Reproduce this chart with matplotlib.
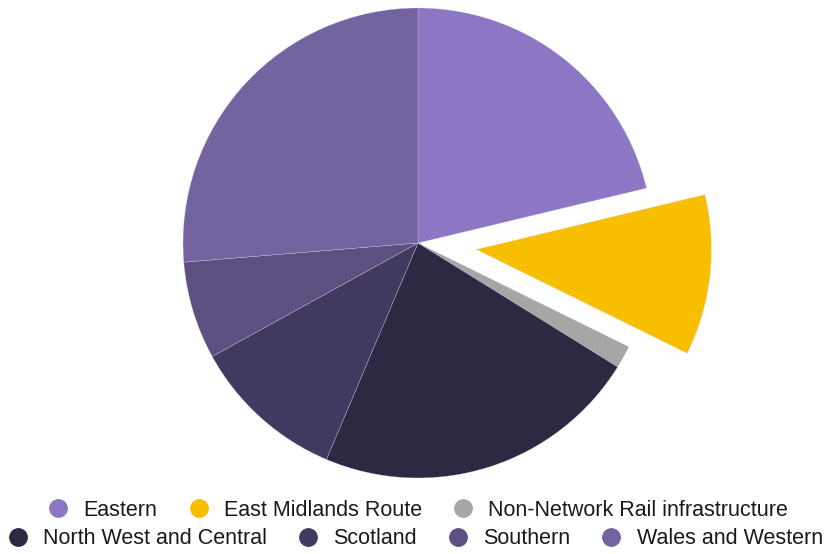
import matplotlib.pyplot as plt
from matplotlib.lines import Line2D

plt.rcParams['font.family'] = ['Liberation Sans', 'DejaVu Sans']

### data (share of total, %)
regions = ["Eastern", "East Midlands Route", "Non-Network Rail infrastructure",
           "North West and Central", "Scotland", "Southern", "Wales and Western"]
shares  = [21.25, 11.03, 1.56, 22.53, 10.61, 6.72, 26.30]
colors  = ["#8B77C3", "#F8BE00", "#A6A6A6", "#2D2942", "#413960", "#5E4F81", "#73639F"]
explode = [0, 0.25, 0, 0, 0, 0, 0]

W, H = 828, 554
R  = 235.0          # pie radius in px
cx, cy = 418, 311   # pie centre in px (from bottom)

fig = plt.figure(figsize=(W/100, H/100), dpi=100)
ax = fig.add_axes([0, 0, 1, 1])
ax.pie(shares, colors=colors, explode=explode, startangle=90, counterclock=False,
       wedgeprops=dict(edgecolor="#d8d4e4", linewidth=0.2))
ax.set_xlim(-cx/R, (W-cx)/R)
ax.set_ylim(-cy/R, (H-cy)/R)
ax.set_aspect('equal')
ax.axis('off')

### legend: 3 items on first row, 4 on second
def handle(c):
    return Line2D([], [], marker='o', linestyle='', markersize=12.5,
                  markerfacecolor=c, markeredgecolor=c)

common = dict(loc='center', frameon=False, fontsize=15.5, handlelength=0.8,
              handletextpad=0.78, columnspacing=1.5, borderpad=0, borderaxespad=0)
leg1 = fig.legend([handle(c) for c in colors[:3]], regions[:3], ncol=3,
                  bbox_to_anchor=(0.506, 1 - 510/H), **common)
leg2 = fig.legend([handle(c) for c in colors[3:]], regions[3:], ncol=4,
                  bbox_to_anchor=(0.5024, 1 - 539/H), **common)
for leg in (leg1, leg2):
    for t in leg.get_texts():
        t.set_color("#1a1a1a")

fig.savefig("out.png", dpi=100)
